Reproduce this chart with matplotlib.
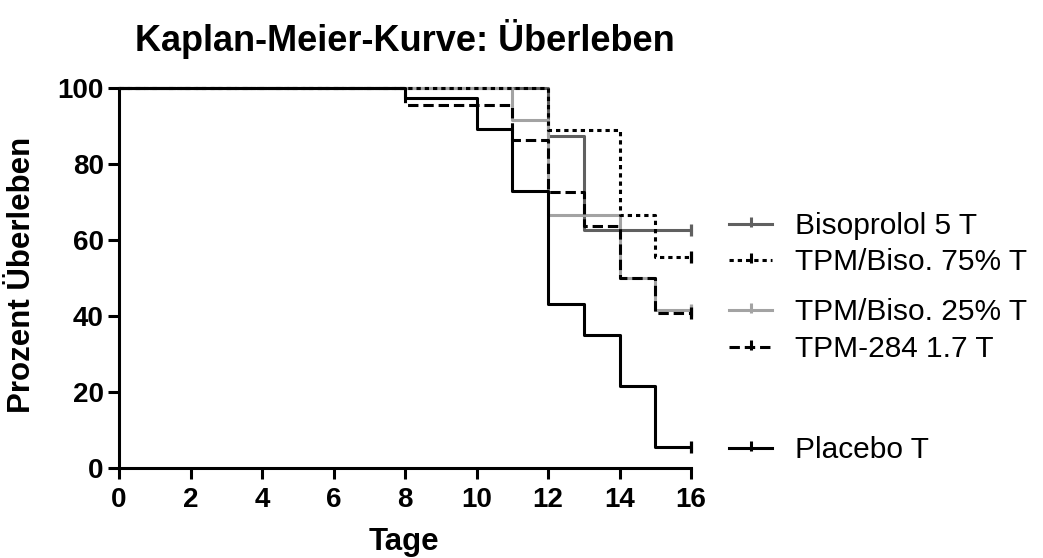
import matplotlib
matplotlib.use("Agg")
import matplotlib.pyplot as plt
from matplotlib.lines import Line2D

plt.rcParams['font.family'] = ['Liberation Sans', 'DejaVu Sans']

# Kaplan-Meier survival (%) per group, step changes at the given days
groups = ["Bisoprolol 5 T", "TPM/Biso. 75% T", "TPM/Biso. 25% T", "TPM-284 1.7 T", "Placebo T"]

days_biso = [0, 12, 13, 16]
surv_biso = [100, 87.5, 62.5, 62.5]

days_tpm75 = [0, 12, 14, 15, 16]
surv_tpm75 = [100, 88.9, 66.7, 55.6, 55.6]

days_tpm25 = [0, 11, 12, 14, 15, 16]
surv_tpm25 = [100, 91.7, 66.7, 50.0, 41.7, 41.7]

days_tpm284 = [0, 8, 11, 12, 13, 14, 15, 16]
surv_tpm284 = [100, 95.5, 86.4, 72.7, 63.6, 50.0, 40.9, 40.9]

days_placebo = [0, 8, 10, 11, 12, 13, 14, 15, 16]
surv_placebo = [100, 97.3, 89.2, 73.0, 43.2, 35.1, 21.6, 5.4, 5.4]

x_ticks = [0, 2, 4, 6, 8, 10, 12, 14, 16]
y_ticks = [0, 20, 40, 60, 80, 100]

W, H = 1043, 558
fig = plt.figure(figsize=(W / 100, H / 100), dpi=100)
ax = fig.add_axes([119 / W, 1 - 468 / H, (691 - 119) / W, (468 - 88) / H])

lw = 2.2
styles = [
    dict(color="#606060", lw=lw, ls="-"),
    dict(color="black", lw=lw, dashes=(1.4, 1.3)),
    dict(color="#a3a3a3", lw=lw, ls="-"),
    dict(color="black", lw=lw, dashes=(3.4, 1.6)),
    dict(color="black", lw=lw, ls="-"),
]
series = [
    (days_biso, surv_biso),
    (days_tpm75, surv_tpm75),
    (days_tpm25, surv_tpm25),
    (days_tpm284, surv_tpm284),
    (days_placebo, surv_placebo),
]
zorders = [2, 5, 3, 4, 6]

for (d, s), st, z in zip(series, styles, zorders):
    ax.step(d, s, where="post", clip_on=False, zorder=z, solid_capstyle="butt",
            dash_capstyle="butt", **st)
    # censored at end of observation
    ax.plot(d[-1], s[-1], marker="|", ms=8, mew=2.3, color=st["color"],
            clip_on=False, zorder=z)

ax.set_xlim(0, 16)
ax.set_ylim(0, 100)
ax.set_xticks(x_ticks)
ax.set_yticks(y_ticks)
for side in ["top", "right"]:
    ax.spines[side].set_visible(False)
for side in ["left", "bottom"]:
    ax.spines[side].set_linewidth(2.2)
ax.tick_params(direction="out", length=8, width=2.2, labelsize=20, pad=3)
ax.tick_params(axis="x", pad=6)
for lab in ax.get_xticklabels() + ax.get_yticklabels():
    lab.set_fontweight("bold")

fig.text(404 / W, 1 - 550 / H, "Tage", fontsize=22.5, fontweight="bold",
         ha="center", va="baseline")
fig.text(22 / W, 1 - 275 / H, "Prozent Überleben", fontsize=22.5, fontweight="bold",
         ha="center", va="center", rotation=90)

fig.text(405 / W, 1 - 51 / H, "Kaplan-Meier-Kurve: Überleben", fontsize=26,
         fontweight="bold", ha="center", va="baseline")

# legend entries, each placed next to its curve end
legend_y = [224, 260, 310, 347, 448]
for name, st, yp in zip(groups, styles, legend_y):
    yf = 1 - yp / H
    fig.add_artist(Line2D([729 / W, 772 / W], [yf, yf], transform=fig.transFigure, **st))
    fig.add_artist(Line2D([750.5 / W], [yf + 2 / H], transform=fig.transFigure, marker="|",
                          ms=7, mew=2.2, color=st["color"], ls="none"))
    fig.text(795 / W, 1 - (yp + 10) / H, name, fontsize=21.5, ha="left", va="baseline")

fig.savefig("out.png", dpi=100)
